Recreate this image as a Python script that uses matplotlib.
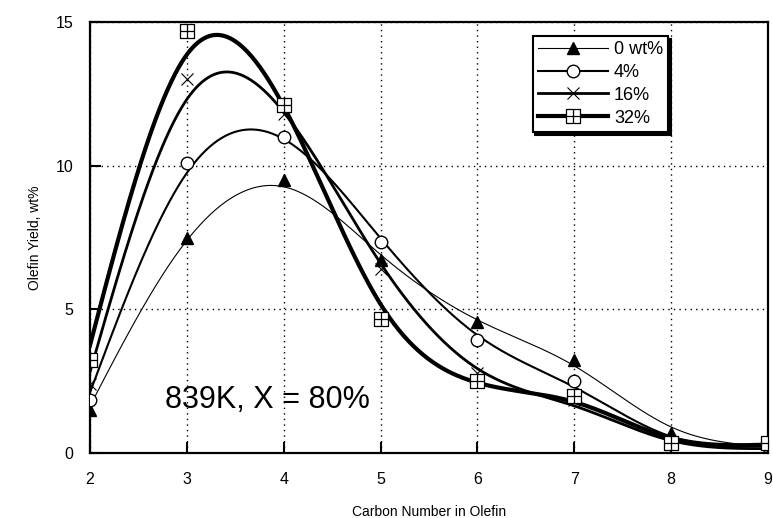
import numpy as np
import matplotlib
matplotlib.use("Agg")
from matplotlib import pyplot as plt
from matplotlib.path import Path

plt.rcParams['font.family'] = ['Liberation Sans', 'DejaVu Sans']

# carbon number of olefin
carbon = [2, 3, 4, 5, 6, 7, 8, 9]

# olefin yield, wt%
yield_0 = [1.5, 7.5, 9.5, 6.7, 4.55, 3.25, 0.7, 0.3]
yield_4 = [1.85, 10.1, 11.0, 7.35, 3.95, 2.5, 0.4, 0.3]
yield_16 = [2.4, 13.0, 11.8, 6.4, 2.8, 1.85, 0.3, 0.2]
yield_32 = [3.25, 14.7, 12.1, 4.65, 2.5, 2.0, 0.35, 0.35]

labels = ['0 wt%', '4%', '16%', '32%']


def smooth_curve(x, y, lam=0.03, step=0.01):
    # penalised least squares (smoothing spline on a fine grid)
    grid = np.arange(x[0], x[-1] + step / 2, step)
    n = len(grid)
    w = np.zeros(n)
    target = np.zeros(n)
    for xi, yi in zip(x, y):
        k = int(round((xi - x[0]) / step))
        w[k] = 1.0
        target[k] = yi
    D = np.diff(np.eye(n), 2, axis=0)
    A = np.diag(w) + lam / step**3 * D.T @ D
    z = np.linalg.solve(A, w * target)
    return grid, z


# square with a cross inside
sq_verts = [(-1, -1), (1, -1), (1, 1), (-1, 1), (-1, -1),
            (0, -1), (0, 1), (-1, 0), (1, 0)]
sq_codes = [Path.MOVETO, Path.LINETO, Path.LINETO, Path.LINETO, Path.CLOSEPOLY,
            Path.MOVETO, Path.LINETO, Path.MOVETO, Path.LINETO]
box_cross = Path(sq_verts, sq_codes)

series = [
    (yield_0, 0.8, dict(marker='^', markersize=8, markerfacecolor='black', markeredgecolor='black')),
    (yield_4, 1.5, dict(marker='o', markersize=9, markerfacecolor='white', markeredgecolor='black', markeredgewidth=1)),
    (yield_16, 2.0, dict(marker='x', markersize=8, markeredgecolor='black', markeredgewidth=0.8)),
    (yield_32, 3.0, dict(marker=box_cross, markersize=10, markerfacecolor='white', markeredgecolor='black', markeredgewidth=0.9)),
]

fig = plt.figure(figsize=(7.73, 5.18), dpi=100)
ax = fig.add_axes([0.1164, 0.1255, 0.877, 0.832])

handles = []
for (vals, lw, mk), lab in zip(series, labels):
    gx, gy = smooth_curve(carbon, vals)
    ax.plot(gx, gy, color='black', lw=lw, zorder=3)
    ax.plot(carbon, vals, linestyle='none', zorder=4, **mk)
    h, = ax.plot([], [], color='black', lw=lw, **mk)
    handles.append(h)

ax.set_xlim(2, 9)
ax.set_ylim(0, 15)
ax.set_xticks(carbon)
ax.set_yticks([0, 5, 10, 15])
ax.grid(True, color='black', linestyle=(0, (1, 3)), linewidth=1)
ax.tick_params(direction='in', length=8, width=1.5, labelsize=11.5)
ax.tick_params(axis='x', pad=14)
ax.tick_params(axis='y', pad=12)
for s in ax.spines.values():
    s.set_linewidth(1.6)

ax.set_xlabel('Carbon Number in Olefin', fontsize=10, labelpad=13)
ax.set_ylabel('Olefin Yield, wt%', fontsize=10, labelpad=10)

ax.text(2.77, 1.57, '839K, X = 80%', fontsize=22, ha='left', va='baseline')

leg = ax.legend(handles, labels, loc='upper left', bbox_to_anchor=(0.653, 0.968),
                borderaxespad=0, fontsize=13, handlelength=3.9, handletextpad=0.3,
                borderpad=0.3, fancybox=False,
                framealpha=1, edgecolor='black', labelspacing=0.32,
                shadow={'color': 'black', 'alpha': 1})
leg.get_frame().set_linewidth(1.5)

fig.savefig('out.png', dpi=100)
